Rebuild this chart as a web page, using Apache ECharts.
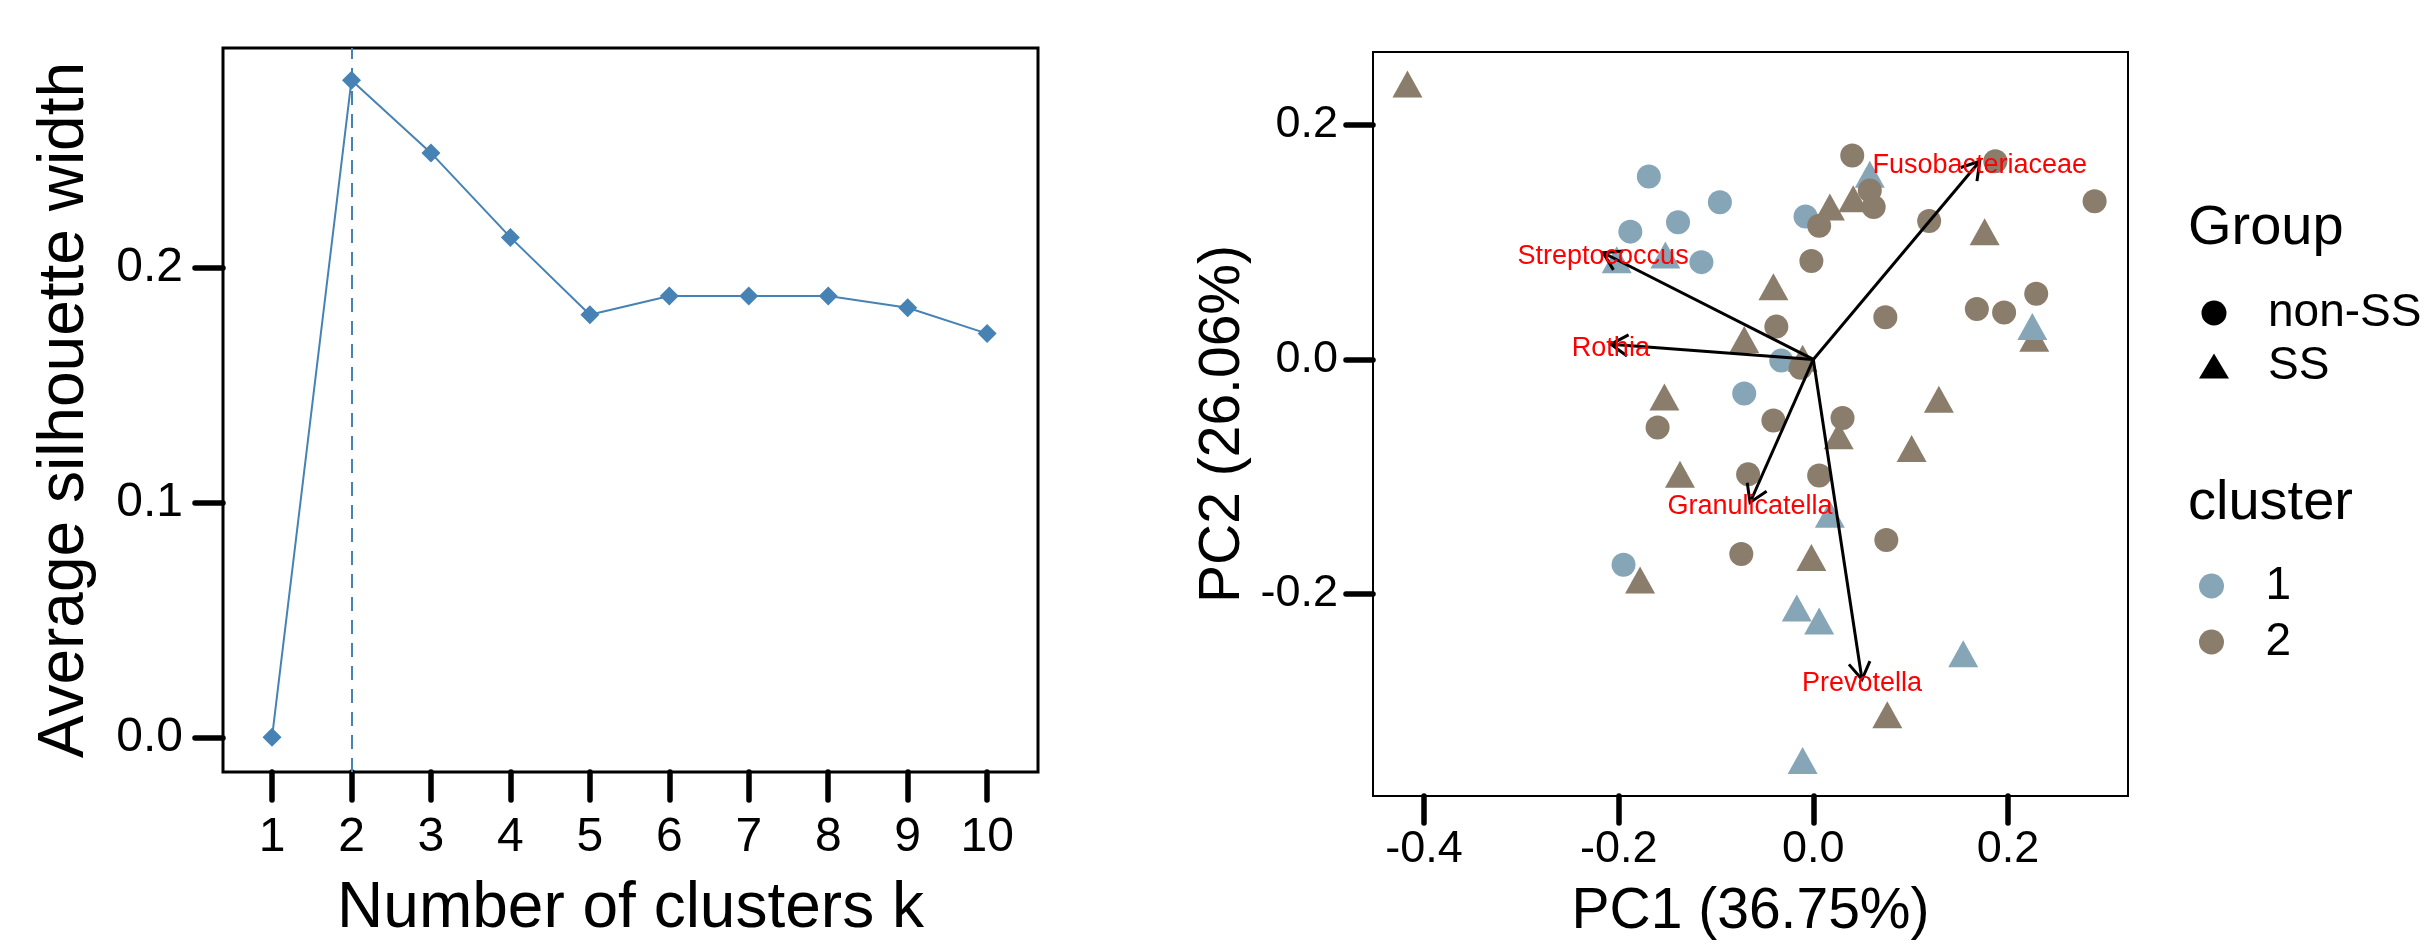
<!DOCTYPE html>
<html><head><meta charset="utf-8">
<script src="https://cdn.jsdelivr.net/npm/echarts@6/dist/echarts.min.js"></script>
<style>html,body{margin:0;padding:0;background:#fff}#c{width:2429px;height:946px}</style>
</head><body><div id="c"></div>
<script>
// ---- Left panel: silhouette ----
const kValues = [1, 2, 3, 4, 5, 6, 7, 8, 9, 10];
const silhouette = [0.000, 0.280, 0.249, 0.213, 0.180, 0.188, 0.188, 0.188, 0.183, 0.172];
const optimalK = 2;
const kTicks = [1, 2, 3, 4, 5, 6, 7, 8, 9, 10];
const silTicks = [0, 0.1, 0.2];

// ---- Right panel: PCA biplot ----
const pc1Ticks = [-0.4, -0.2, 0, 0.2];
const pc2Ticks = [-0.2, 0, 0.2];
const cluster1NonSS = [[-0.169,0.156],[-0.096,0.134],[-0.139,0.117],[-0.188,0.109],[-0.115,0.083],[-0.008,0.122],[-0.033,-0.001],[-0.071,-0.029],[-0.195,-0.175]];
const cluster1SS = [[0.058,0.158],[-0.202,0.085],[-0.152,0.089],[0.225,0.028],[0.017,-0.132],[-0.017,-0.212],[0.006,-0.223],[0.154,-0.251],[-0.011,-0.342]];
const cluster2NonSS = [[0.040,0.174],[0.187,0.169],[0.289,0.135],[0.058,0.144],[0.062,0.130],[0.006,0.114],[0.119,0.118],[-0.002,0.084],[0.229,0.056],[0.168,0.043],[0.196,0.040],[0.074,0.036],[-0.038,0.028],[-0.013,-0.007],[-0.041,-0.052],[0.030,-0.050],[-0.160,-0.058],[-0.067,-0.098],[0.006,-0.099],[0.075,-0.154],[-0.074,-0.166]];
const cluster2SS = [[-0.417,0.235],[0.017,0.130],[0.041,0.137],[0.176,0.109],[-0.041,0.062],[-0.071,0.017],[-0.011,0.001],[0.227,0.018],[-0.153,-0.032],[0.129,-0.034],[0.026,-0.065],[0.101,-0.076],[-0.137,-0.098],[-0.002,-0.169],[-0.178,-0.188],[0.076,-0.303]];
const loadingNames = ['Fusobacteriaceae', 'Streptococcus', 'Rothia', 'Granulicatella', 'Prevotella'];
const loadingPC1 = [0.171, -0.216, -0.208, -0.065, 0.050];
const loadingPC2 = [0.169, 0.091, 0.013, -0.122, -0.273];

const FONT = 'Liberation Sans, Arial, sans-serif';
const BLUE = '#86A5B6', BROWN = '#8B7D6B', STEEL = '#4682B4';

const chart = echarts.init(document.getElementById('c'), null, {renderer: 'canvas'});
const fmt1 = v => v.toFixed(1);
const tickStyle = (len, vals) => ({show: true, length: len, customValues: vals, lineStyle: {color: '#000', width: 5.5, cap: 'round'}});
const noLine = {show: false, onZero: false};

const loadings = loadingNames.map((n, i) => [loadingPC1[i], loadingPC2[i]]);

chart.setOption({
  animation: false,
  backgroundColor: '#fff',
  textStyle: {fontFamily: FONT},
  grid: [
    {left: 223, top: 48, width: 815, height: 730, show: true, borderColor: '#000', borderWidth: 3, containLabel: false},
    {left: 1373, top: 52, width: 755, height: 755, show: true, borderColor: '#000', borderWidth: 2, containLabel: false}
  ],
  xAxis: [
    {gridIndex: 0, type: 'value', min: 0.383, max: 10.64,
     name: 'Number of clusters k', nameLocation: 'middle', nameGap: 105,
     nameTextStyle: {fontSize: 64, color: '#000', fontFamily: FONT},
     axisLine: noLine, splitLine: {show: false},
     axisTick: tickStyle(28, kTicks),
     axisLabel: {customValues: kTicks, fontSize: 48, color: '#000', margin: 42, fontFamily: FONT}},
    {gridIndex: 1, type: 'value', min: -0.4524, max: 0.3233,
     name: 'PC1 (36.75%)', nameLocation: 'middle', nameGap: 88,
     nameTextStyle: {fontSize: 57, color: '#000', fontFamily: FONT},
     axisLine: noLine, splitLine: {show: false},
     axisTick: tickStyle(27, pc1Ticks),
     axisLabel: {customValues: pc1Ticks, formatter: fmt1, fontSize: 45, color: '#000', margin: 31, fontFamily: FONT}}
  ],
  yAxis: [
    {gridIndex: 0, type: 'value', min: -0.0148, max: 0.2937,
     name: 'Average silhouette width', nameLocation: 'middle', nameGap: 126,
     nameTextStyle: {fontSize: 64, color: '#000', fontFamily: FONT},
     axisLine: noLine, splitLine: {show: false},
     axisTick: tickStyle(28, silTicks),
     axisLabel: {customValues: silTicks, formatter: fmt1, fontSize: 48, color: '#000', margin: 40, fontFamily: FONT}},
    {gridIndex: 1, type: 'value', min: -0.3723, max: 0.2622,
     name: 'PC2 (26.06%)', nameLocation: 'middle', nameGap: 121,
     nameTextStyle: {fontSize: 57, color: '#000', fontFamily: FONT},
     axisLine: noLine, splitLine: {show: false},
     axisTick: tickStyle(27, pc2Ticks),
     axisLabel: {customValues: pc2Ticks, formatter: fmt1, fontSize: 45, color: '#000', margin: 35, fontFamily: FONT}}
  ],
  title: [
    {text: 'Group', left: 2188, top: 201, padding: 0, textStyle: {fontSize: 56, fontWeight: 'normal', color: '#000', fontFamily: FONT}},
    {text: 'cluster', left: 2188, top: 476, padding: 0, textStyle: {fontSize: 56, fontWeight: 'normal', color: '#000', fontFamily: FONT}}
  ],
  legend: [
    {orient: 'vertical', left: 2199, top: 290, padding: 0, itemGap: 7, itemWidth: 30, itemHeight: 25,
     selectedMode: false,
     data: [{name: 'non-SS', icon: 'circle'}, {name: 'SS', icon: 'triangle'}],
     textStyle: {fontSize: 46, color: '#000', fontFamily: FONT, padding: [0, 0, 0, 34]}},
    {orient: 'vertical', left: 2199, top: 563, padding: 0, itemGap: 10, itemWidth: 30, itemHeight: 25,
     selectedMode: false,
     data: [{name: '1', icon: 'circle'}, {name: '2', icon: 'circle'}],
     textStyle: {fontSize: 46, color: '#000', fontFamily: FONT, padding: [0, 0, 0, 34]}}
  ],
  series: [
    {type: 'line', name: 'silhouette', xAxisIndex: 0, yAxisIndex: 0,
     data: kValues.map((k, i) => [k, silhouette[i]]),
     symbol: 'diamond', symbolSize: 19, showSymbol: true,
     itemStyle: {color: STEEL}, lineStyle: {color: STEEL, width: 2},
     markLine: {silent: true, symbol: 'none', label: {show: false},
       lineStyle: {color: STEEL, width: 2, type: [14, 9]}, data: [{xAxis: optimalK}]}},
    // legend proxies
    {type: 'scatter', name: 'non-SS', xAxisIndex: 1, yAxisIndex: 1, data: [], itemStyle: {color: '#000', opacity: 1}, symbol: 'circle'},
    {type: 'scatter', name: 'SS', xAxisIndex: 1, yAxisIndex: 1, data: [], itemStyle: {color: '#000', opacity: 1}, symbol: 'triangle'},
    {type: 'scatter', name: '1', xAxisIndex: 1, yAxisIndex: 1, data: [], itemStyle: {color: BLUE, opacity: 1}, symbol: 'circle'},
    {type: 'scatter', name: '2', xAxisIndex: 1, yAxisIndex: 1, data: [], itemStyle: {color: BROWN, opacity: 1}, symbol: 'circle'},
    // data
    {type: 'scatter', name: 'c1-nonSS', xAxisIndex: 1, yAxisIndex: 1, data: cluster1NonSS, symbol: 'circle', symbolSize: 24, itemStyle: {color: BLUE, opacity: 1}},
    {type: 'scatter', name: 'c2-SS', xAxisIndex: 1, yAxisIndex: 1, data: cluster2SS, symbol: 'triangle', symbolSize: [30, 27], itemStyle: {color: BROWN, opacity: 1}},
    {type: 'scatter', name: 'c1-SS', xAxisIndex: 1, yAxisIndex: 1, data: cluster1SS, symbol: 'triangle', symbolSize: [30, 27], itemStyle: {color: BLUE, opacity: 1}},
    {type: 'scatter', name: 'c2-nonSS', xAxisIndex: 1, yAxisIndex: 1, data: cluster2NonSS, symbol: 'circle', symbolSize: 24, itemStyle: {color: BROWN, opacity: 1}},
    // loading arrows
    {type: 'custom', name: 'loadings', xAxisIndex: 1, yAxisIndex: 1, z: 10, data: loadings,
     encode: {x: 0, y: 1},
     renderItem: function (params, api) {
       const o = api.coord([0, 0]);
       const t = api.coord([api.value(0), api.value(1)]);
       const ang = Math.atan2(t[1] - o[1], t[0] - o[0]);
       const L = 20, a = 32 * Math.PI / 180;
       const h1 = [t[0] - L * Math.cos(ang - a), t[1] - L * Math.sin(ang - a)];
       const h2 = [t[0] - L * Math.cos(ang + a), t[1] - L * Math.sin(ang + a)];
       return {type: 'group', children: [
         {type: 'line', shape: {x1: o[0], y1: o[1], x2: t[0], y2: t[1]}, style: {stroke: '#000', lineWidth: 3}},
         {type: 'polyline', shape: {points: [h1, t, h2]}, style: {stroke: '#000', lineWidth: 3, fill: null}},
         {type: 'text', x: t[0], y: t[1] + 4, style: {text: loadingNames[params.dataIndex], fill: '#FF0000', fontSize: 27,
           fontFamily: FONT, align: 'center', verticalAlign: 'middle'}}
       ]};
     }}
  ]
});
</script></body></html>
